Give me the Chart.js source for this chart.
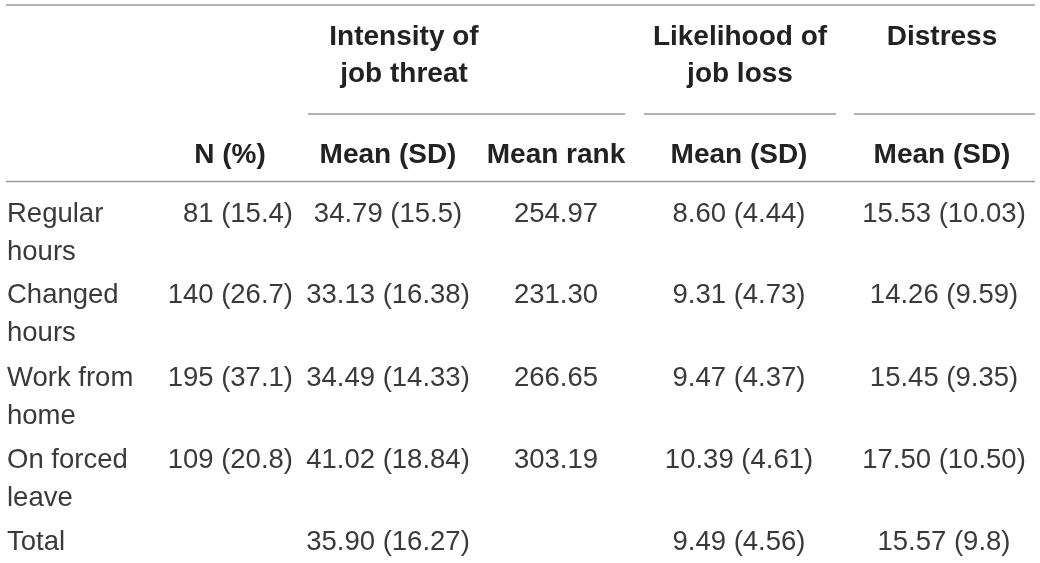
<!DOCTYPE html>
<html>
<head>
<meta charset="utf-8">
<title>Job threat by work status</title>
<script src="https://cdn.jsdelivr.net/npm/chart.js@4.4.1/dist/chart.umd.min.js"></script>
<style>
  html, body { margin: 0; padding: 0; background: #fff; }
  #wrap { width: 1040px; height: 563px; }
</style>
</head>
<body>
<div id="wrap"><canvas id="tableChart" width="1040" height="563"></canvas></div>
<script>
// ---- table data (as printed) ----
const rowLabels = [['Regular', 'hours'], ['Changed', 'hours'], ['Work from', 'home'], ['On forced', 'leave'], ['Total']];
const groupHeaders = [['Intensity of', 'job threat'], ['Likelihood of', 'job loss'], ['Distress']];
const columnHeaders = ['', 'N (%)', 'Mean (SD)', 'Mean rank', 'Mean (SD)', 'Mean (SD)'];

const nCount   = ['81', '140', '195', '109', ''];
const nPercent = ['15.4', '26.7', '37.1', '20.8', ''];
const threatMean = ['34.79', '33.13', '34.49', '41.02', '35.90'];
const threatSD   = ['15.5', '16.38', '14.33', '18.84', '16.27'];
const threatRank = ['254.97', '231.30', '266.65', '303.19', ''];
const lossMean = ['8.60', '9.31', '9.47', '10.39', '9.49'];
const lossSD   = ['4.44', '4.73', '4.37', '4.61', '4.56'];
const distressMean = ['15.53', '14.26', '15.45', '17.50', '15.57'];
const distressSD   = ['10.03', '9.59', '9.35', '10.50', '9.8'];

// ---- layout (page units = pixels of the 1040x563 frame) ----
const colAnchor = [7, 293, 388, 556, 739, 944];
const colAlign  = ['left', 'right', 'center', 'center', 'center', 'center'];
const headerAnchor = [230, 388, 556, 739, 942];   // second header row (N, Mean, rank, Mean, Mean)
const groupAnchor = [404, 740, 942];
const groupRule = [[308, 625], [644, 836], [854, 1035]];
const rowBaseline = [222, 303, 386, 468, 550];
const lineGap = 38;

const FONT = '"Liberation Sans", Arial, Helvetica, sans-serif';
const bodyFont = '27.5px ' + FONT;
const headFont = 'bold 28px ' + FONT;
const bodyColor = '#3a3a3a';
const headColor = '#222222';
const ruleColor = '#9a9a9a';

const pair = (a, b) => a.map((v, i) => v === '' ? '' : v + ' (' + b[i] + ')');
const cellText = [
    rowLabels,
    pair(nCount, nPercent),
    pair(threatMean, threatSD),
    threatRank,
    pair(lossMean, lossSD),
    pair(distressMean, distressSD)
];

// one invisible dataset per column; the plugin writes the cell text at each point
const datasets = cellText.map((col, c) => ({
    label: 'col' + c,
    data: col.map((_, r) => ({ x: colAnchor[c], y: rowBaseline[r] })),
    pointRadius: 0,
    pointHoverRadius: 0,
    showLine: false
}));

const tablePlugin = {
    id: 'tableText',
    afterDatasetsDraw(chart) {
        const { ctx, scales: { x, y } } = chart;
        ctx.save();

        // rules
        ctx.strokeStyle = ruleColor;
        ctx.lineWidth = 1.5;
        const hline = (x0, x1, yv) => {
            ctx.beginPath();
            ctx.moveTo(x.getPixelForValue(x0), y.getPixelForValue(yv));
            ctx.lineTo(x.getPixelForValue(x1), y.getPixelForValue(yv));
            ctx.stroke();
        };
        hline(6, 1035, 5);
        groupRule.forEach(([a, b]) => hline(a, b, 114));
        hline(6, 1035, 181.5);

        // group headers
        ctx.fillStyle = headColor;
        ctx.font = headFont;
        ctx.textAlign = 'center';
        ctx.textBaseline = 'alphabetic';
        groupHeaders.forEach((lines, g) => {
            lines.forEach((t, l) => {
                ctx.fillText(t, x.getPixelForValue(groupAnchor[g]), y.getPixelForValue(45 + l * 37));
            });
        });

        // column headers
        columnHeaders.slice(1).forEach((t, i) => {
            ctx.fillText(t, x.getPixelForValue(headerAnchor[i]), y.getPixelForValue(163));
        });

        // body cells
        ctx.fillStyle = bodyColor;
        ctx.font = bodyFont;
        chart.data.datasets.forEach((ds, c) => {
            const meta = chart.getDatasetMeta(c);
            ctx.textAlign = colAlign[c];
            meta.data.forEach((pt, r) => {
                const v = cellText[c][r];
                const lines = Array.isArray(v) ? v : [v];
                lines.forEach((t, l) => ctx.fillText(t, pt.x, pt.y + l * lineGap));
            });
        });

        ctx.restore();
    }
};

new Chart(document.getElementById('tableChart'), {
    type: 'scatter',
    data: { datasets },
    options: {
        responsive: false,
        animation: false,
        devicePixelRatio: 1,
        layout: { padding: 0 },
        events: [],
        plugins: { legend: { display: false }, tooltip: { enabled: false } },
        scales: {
            x: { type: 'linear', min: 0, max: 1040, display: false },
            y: { type: 'linear', min: 0, max: 563, reverse: true, display: false }
        }
    },
    plugins: [tablePlugin]
});
</script>
</body>
</html>
